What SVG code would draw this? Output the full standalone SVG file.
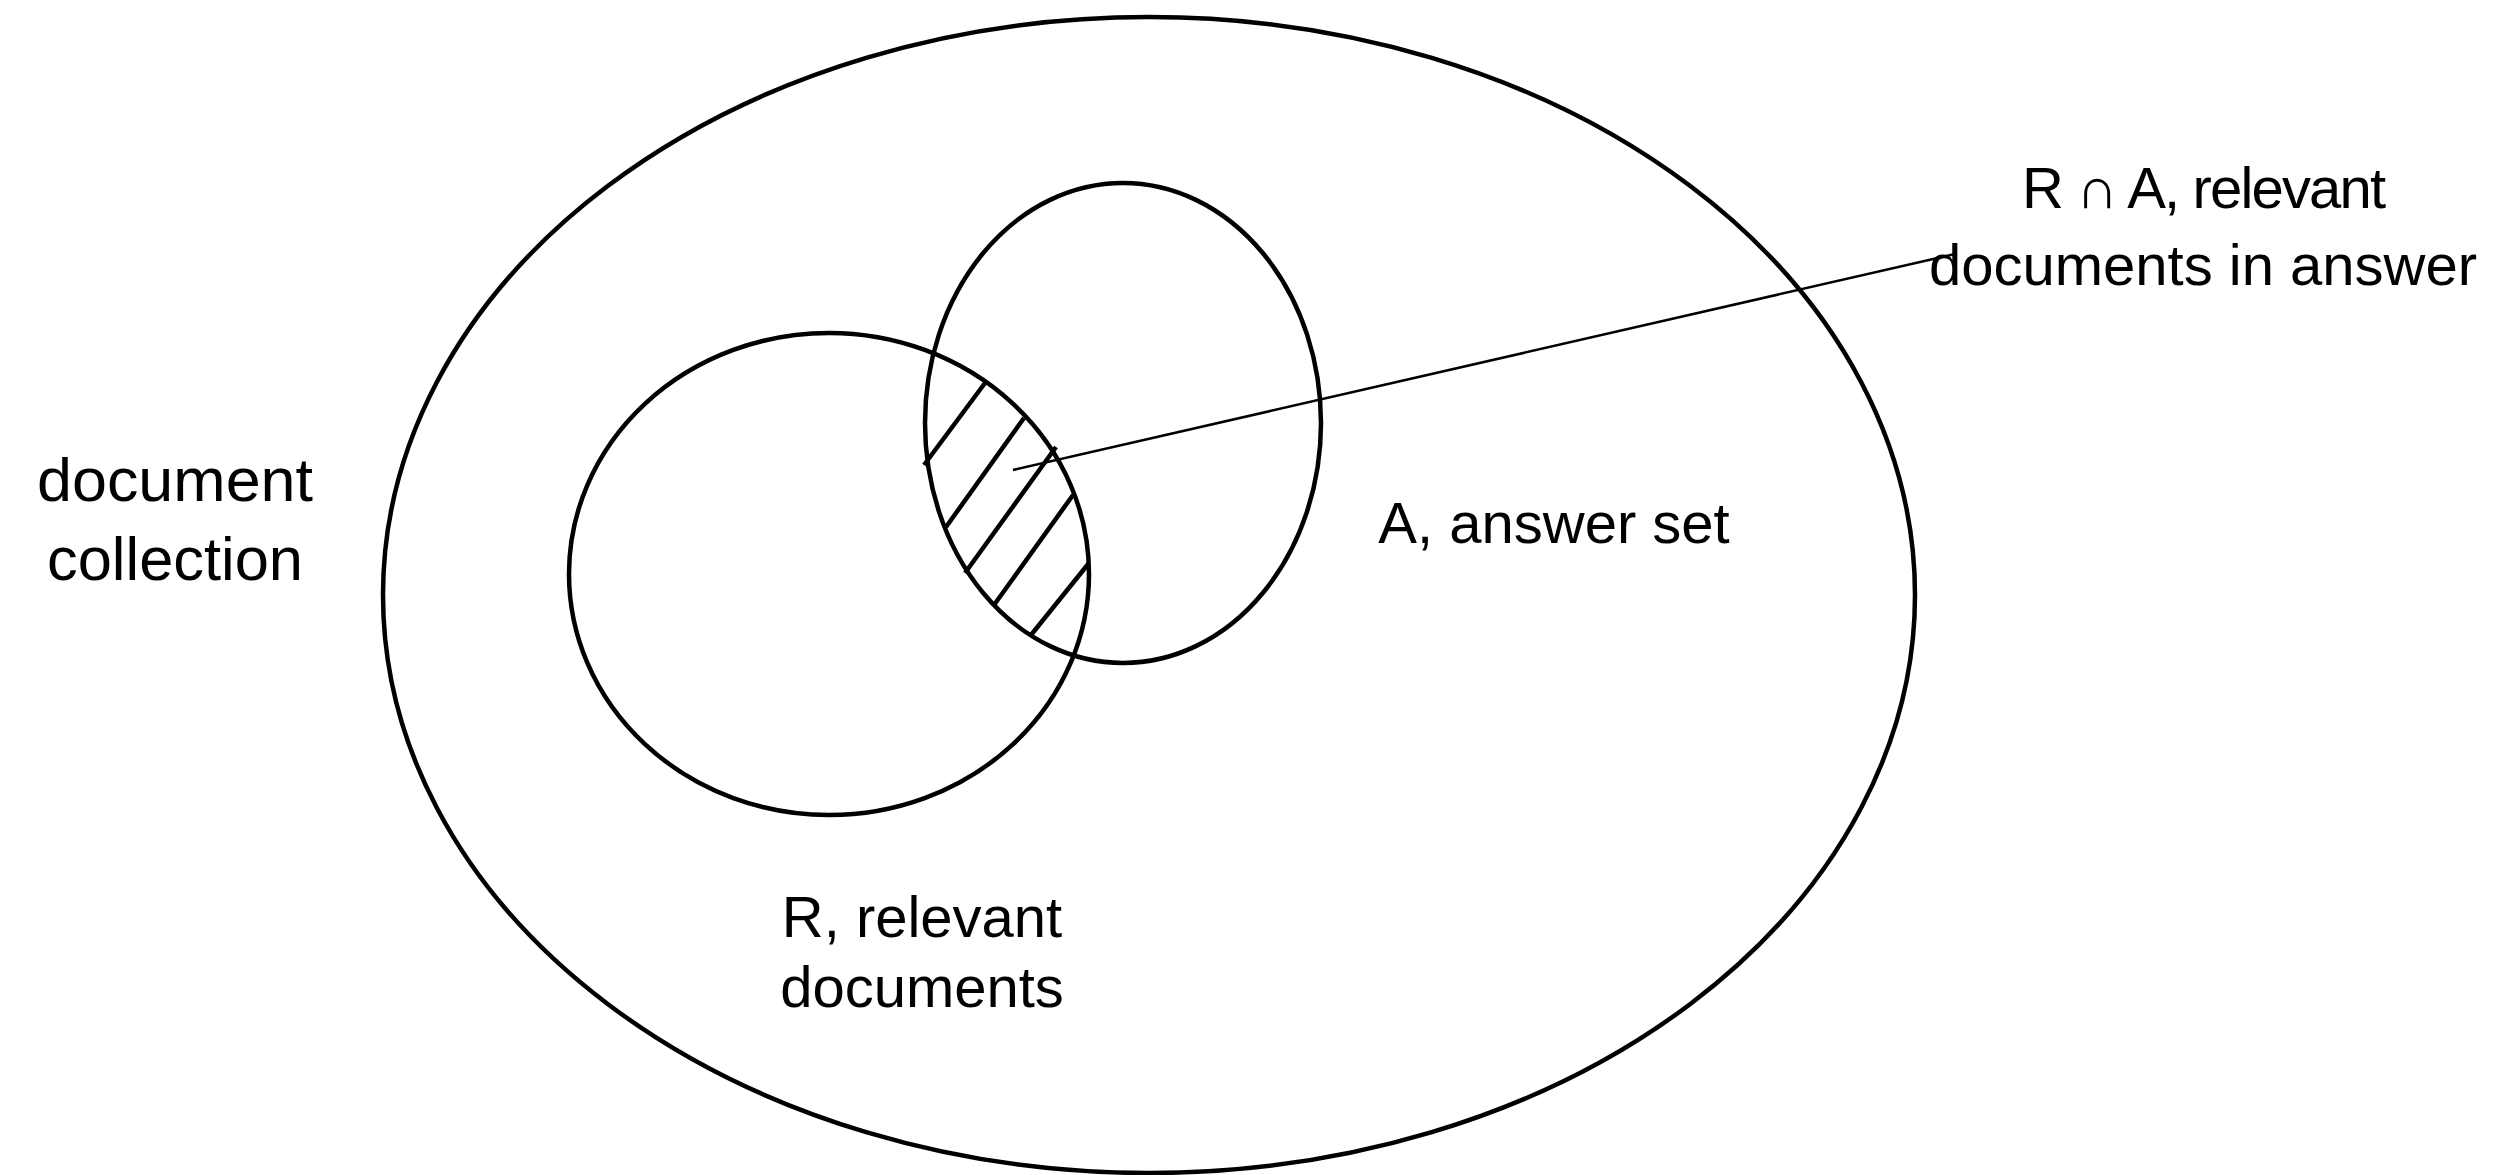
<svg xmlns="http://www.w3.org/2000/svg" width="2515" height="1175" viewBox="0 0 2515 1175">
  <style>
    .set { fill: none; stroke: #000; stroke-width: 4.5; }
    .hatch { stroke: #000; stroke-width: 4.5; stroke-linecap: butt; }
    .leader { stroke: #000; stroke-width: 2.5; fill: none; }
    .lbl { font-family: "Liberation Sans", Arial, sans-serif; font-size: 58px; fill: #000; text-anchor: middle; }
    .big { font-size: 62px; }
  </style>
  <rect width="2515" height="1175" fill="#fff"/>
  <g id="collection">
    <ellipse class="set" cx="1149" cy="595" rx="766" ry="578"/>
    <text class="lbl big" x="175" y="501" textLength="276" lengthAdjust="spacingAndGlyphs">document</text>
    <text class="lbl big" x="175" y="580" textLength="256" lengthAdjust="spacingAndGlyphs">collection</text>
  </g>
  <g id="relevant">
    <ellipse class="set" cx="829" cy="574" rx="260" ry="241"/>
    <text class="lbl" x="922" y="937">R, relevant</text>
    <text class="lbl" x="922" y="1007">documents</text>
  </g>
  <g id="answer">
    <ellipse class="set" cx="1123" cy="423" rx="198" ry="240"/>
    <text class="lbl" x="1554" y="543">A, answer set</text>
  </g>
  <g id="intersection">
    <line class="hatch" x1="924" y1="465" x2="985" y2="383"/>
    <line class="hatch" x1="946" y1="527" x2="1024" y2="418"/>
    <line class="hatch" x1="965" y1="573" x2="1056" y2="447"/>
    <line class="hatch" x1="994" y1="605" x2="1073" y2="495"/>
    <line class="hatch" x1="1031" y1="635" x2="1089" y2="563"/>
    <text class="lbl" x="2204" y="208" textLength="364" lengthAdjust="spacing">R ∩ A, relevant</text>
    <text class="lbl" x="2203" y="285">documents in answer</text>
  </g>
  <g id="connectors">
    <line class="leader" x1="1013" y1="470" x2="1955" y2="254"/>
  </g>
</svg>
